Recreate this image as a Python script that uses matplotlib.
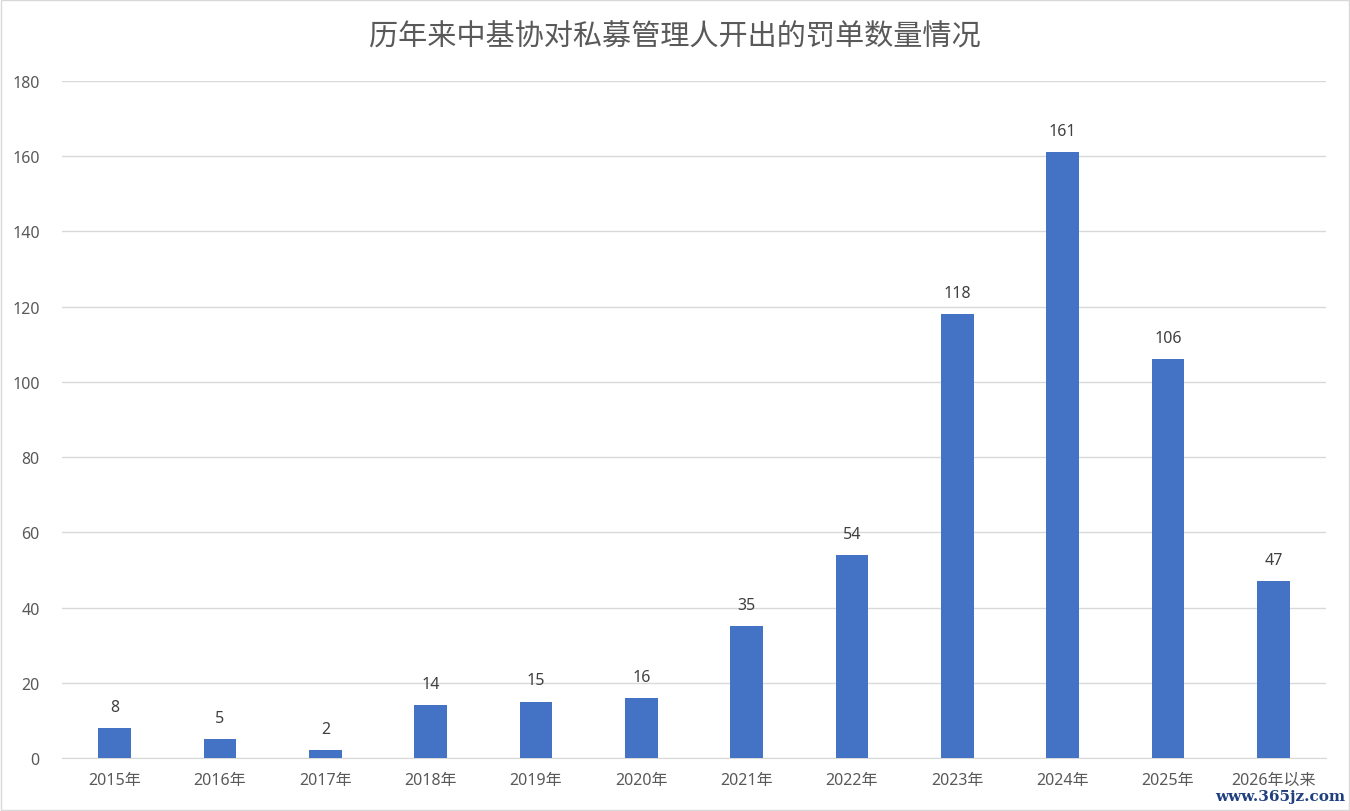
import matplotlib.pyplot as plt
from matplotlib.patches import Rectangle

plt.rcParams['font.family'] = ['Noto Sans', 'Noto Sans CJK SC', 'DejaVu Sans']

years = ["2015年", "2016年", "2017年", "2018年", "2019年", "2020年",
         "2021年", "2022年", "2023年", "2024年", "2025年", "2026年以来"]
counts = [8, 5, 2, 14, 15, 16, 35, 54, 118, 161, 106, 47]
title = "历年来中基协对私募管理人开出的罚单数量情况"

fig = plt.figure(figsize=(13.5, 8.12), dpi=100)
ax = fig.add_axes([62 / 1350, 1 - 759 / 812, 1264 / 1350, 677 / 812])

x = range(len(years))
bars = ax.bar(x, counts, width=0.31, color="#4472C4", zorder=3)
for b, v in zip(bars, counts):
    ax.text(b.get_x() + b.get_width() / 2, v + 3.5, str(v),
            ha="center", va="bottom", fontsize=11.5, color="#404040")

ax.set_xlim(-0.5, len(years) - 0.5)
ax.set_ylim(0, 180)
ax.set_yticks(range(0, 181, 20))
ax.set_xticks(list(x))
ax.set_xticklabels(years)
ax.tick_params(axis="both", length=0, labelsize=11.5, colors="#595959")
ax.tick_params(axis="y", pad=16)
ax.tick_params(axis="x", pad=10)
ax.grid(axis="y", color="#D9D9D9", linewidth=1, zorder=0)
for s in ["top", "right", "left"]:
    ax.spines[s].set_visible(False)
ax.spines["bottom"].set_color("#D9D9D9")

fig.text(0.5, 1 - 38 / 812, title, ha="center", va="center",
         fontsize=21, color="#595959")
fig.patches.append(Rectangle((0.001, 0.001), 0.998, 0.998, transform=fig.transFigure,
                             fill=False, edgecolor="#D9D9D9", linewidth=1))
fig.text(1 - 5 / 1350, 1 - 797 / 812, "www.365jz.com", ha="right", va="center",
         fontsize=11, color="#1F3F7F", family="DejaVu Serif", fontweight="bold")

plt.savefig("out.png", dpi=100)
